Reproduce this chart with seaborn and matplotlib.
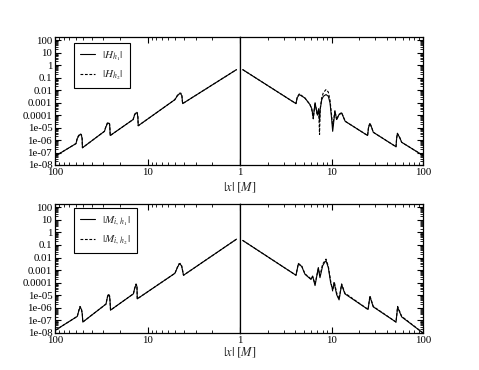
import numpy as np
import pandas as pd
import matplotlib
matplotlib.use("Agg")
import matplotlib.pyplot as plt
import seaborn as sns
from matplotlib.ticker import LogLocator, NullFormatter, FixedLocator, FixedFormatter

# ---- data (|x| in M, amplitude) ----
# top panel, left half (|x| from 100 down to 1)
h_left_x = [100, 59.3, 57.5, 55.6, 53.7, 51.9, 50.9, 50.5, 29.2, 28.2, 27.2, 26.3, 25.7, 25.5, 25.3,
            14.3, 13.8, 13.3, 12.9, 12.7, 12.6, 5.07, 4.79, 4.57, 4.37, 4.25, 4.17, 1.09]
h1_left_y = [5.0e-8, 5.2e-7, 1.3e-6, 2.0e-6, 2.8e-6, 2.5e-6, 1.3e-6, 2.4e-7, 5.0e-6, 1.1e-5, 2.0e-5,
             2.3e-5, 1.8e-5, 7.9e-6, 2.3e-6, 4.4e-5, 1.0e-4, 1.5e-4, 1.4e-4, 6.3e-5, 1.4e-5, 1.7e-3,
             3.2e-3, 4.8e-3, 5.2e-3, 3.5e-3, 8.3e-4, 0.44]
h2_left_y = [5.0e-8, 5.2e-7, 1.4e-6, 2.3e-6, 3.2e-6, 2.8e-6, 1.4e-6, 2.4e-7, 5.0e-6, 1.2e-5, 2.3e-5,
             2.6e-5, 2.0e-5, 8.5e-6, 2.3e-6, 4.4e-5, 1.1e-4, 1.7e-4, 1.6e-4, 7.0e-5, 1.4e-5, 1.7e-3,
             3.5e-3, 5.5e-3, 5.8e-3, 3.8e-3, 8.3e-4, 0.44]

# top panel, right half (|x| from 1 to 100)
h_right_x = [1.07, 4.09, 4.22, 4.45, 4.68, 5.13, 5.82, 6.10, 6.32, 6.61, 7.00, 7.24, 7.40, 7.52, 7.82,
             8.15, 8.71, 9.23, 9.64, 10.05, 10.3, 10.9, 11.4, 12.0, 12.9, 14.1, 24.8, 25.4, 26.3, 27.5,
             28.6, 50.7, 51.5, 52.5, 55.6, 58.5, 100]
h1_right_y = [0.44, 8.3e-4, 2.5e-3, 4.4e-3, 3.5e-3, 2.3e-3, 6.9e-4, 3.2e-4, 5.9e-5, 9.3e-4, 1.1e-4,
              3.2e-4, 3.0e-5, 2.8e-4, 1.7e-3, 3.2e-3, 4.4e-3, 3.2e-3, 9.3e-4, 4.4e-5, 5.0e-6, 2.0e-4,
              4.4e-5, 1.0e-4, 1.5e-4, 3.2e-5, 2.3e-6, 1.0e-5, 2.1e-5, 1.0e-5, 4.2e-6, 2.9e-7, 1.3e-6,
              3.3e-6, 1.6e-6, 6.6e-7, 5.8e-8]
h2_right_y = [0.44, 8.3e-4, 2.8e-3, 5.0e-3, 3.8e-3, 2.3e-3, 6.9e-4, 2.5e-4, 5.0e-5, 1.0e-3, 9.0e-5,
              3.0e-4, 2.8e-6, 3.0e-4, 2.5e-3, 6.3e-3, 1.1e-2, 7.0e-3, 1.5e-3, 8.0e-5, 1.3e-5, 2.2e-4,
              4.0e-5, 1.1e-4, 1.6e-4, 3.2e-5, 2.3e-6, 1.1e-5, 2.3e-5, 1.0e-5, 4.2e-6, 2.9e-7, 1.4e-6,
              3.5e-6, 1.6e-6, 6.6e-7, 5.8e-8]

# bottom panel, left half
m_left_x = [100, 57.4, 55.6, 53.7, 51.9, 50.7, 50.1, 28.1, 27.2, 26.5, 25.7, 25.4, 25.1,
            14.2, 13.8, 13.3, 13.0, 12.9, 5.05, 4.79, 4.57, 4.42, 4.27, 4.08, 1.09]
m1_left_y = [1.6e-8, 2.1e-7, 5.0e-7, 1.1e-6, 7.9e-7, 3.2e-7, 7.4e-8, 2.0e-6, 6.3e-6, 1.1e-5, 7.9e-6,
             3.2e-6, 6.6e-7, 1.3e-5, 3.2e-5, 7.1e-5, 5.0e-5, 5.2e-6, 5.6e-4, 1.4e-3, 2.8e-3, 3.0e-3,
             2.0e-3, 3.9e-4, 0.29]
m2_left_y = [1.6e-8, 2.1e-7, 5.5e-7, 1.3e-6, 9.0e-7, 3.5e-7, 7.4e-8, 2.0e-6, 7.0e-6, 1.3e-5, 9.0e-6,
             3.5e-6, 6.6e-7, 1.3e-5, 3.5e-5, 8.0e-5, 5.5e-5, 5.2e-6, 5.6e-4, 1.5e-3, 3.2e-3, 3.4e-3,
             2.2e-3, 3.9e-4, 0.29]

# bottom panel, right half
m_right_x = [1.07, 4.09, 4.34, 4.72, 5.13, 5.97, 6.22, 6.61, 7.18, 7.48, 8.0, 8.4, 8.71, 9.23, 9.8,
             10.3, 10.7, 11.4, 12.1, 12.9, 14.0, 25.1, 26.3, 28.6, 50.7, 52.8, 58.5, 100]
m1_right_y = [0.23, 3.9e-4, 3.0e-3, 2.0e-3, 4.7e-4, 1.8e-4, 3.4e-4, 5.9e-5, 1.6e-3, 2.5e-4, 2.2e-3,
              4.0e-3, 5.6e-3, 1.6e-3, 9.5e-5, 2.8e-5, 9.5e-5, 1.1e-5, 4.3e-6, 7.1e-5, 1.3e-5, 7.4e-7,
              7.9e-6, 1.2e-6, 7.4e-8, 1.1e-6, 1.9e-7, 1.0e-8]
m2_right_y = [0.23, 3.9e-4, 3.4e-3, 2.2e-3, 5.0e-4, 2.0e-4, 3.0e-4, 8.0e-5, 1.3e-3, 3.5e-4, 3.0e-3,
              5.0e-3, 7.5e-3, 2.0e-3, 1.3e-4, 2.2e-5, 1.2e-4, 1.5e-5, 5.0e-6, 8.0e-5, 1.5e-5, 7.4e-7,
              9.0e-6, 1.3e-6, 7.4e-8, 1.3e-6, 2.1e-7, 1.0e-8]

ytick_vals = [1e2, 1e1, 1e0, 1e-1, 1e-2, 1e-3, 1e-4, 1e-5, 1e-6, 1e-7, 1e-8]
ytick_labels = ["100", "10", "1", "0.1", "0.01", "0.001", "0.0001", "1e-05", "1e-06", "1e-07", "1e-08"]
xlabel = r"$|x|\ [M]$"
top_labels = [r"$|H_{h_1}|$", r"$|H_{h_2}|$"]
bottom_labels = [r"$|M_{i,\,h_1}|$", r"$|M_{i,\,h_2}|$"]

sns.set_style("ticks")
plt.rcParams['font.family'] = ['Liberation Serif', 'DejaVu Serif']
plt.rcParams['mathtext.fontset'] = 'stix'
plt.rcParams['axes.linewidth'] = 0.9

fig = plt.figure(figsize=(4.79, 3.7), dpi=100)
W, H = 479.0, 370.0


def make_axes(x0, x1, ytop, ybot):
    return fig.add_axes([x0 / W, 1 - ybot / H, (x1 - x0) / W, (ybot - ytop) / H])


def style(ax, side):
    ax.set_xscale('log')
    ax.set_yscale('log')
    ax.set_ylim(1e-8, 180)
    ax.set_xlabel("")
    ax.set_ylabel("")
    for s in ax.spines.values():
        s.set_visible(True)
        s.set_color('black')
    ax.yaxis.set_major_locator(FixedLocator(ytick_vals))
    ax.yaxis.set_minor_locator(LogLocator(base=10, subs=np.arange(2, 10), numticks=30))
    ax.yaxis.set_minor_formatter(NullFormatter())
    ax.xaxis.set_minor_locator(LogLocator(base=10, subs=np.arange(2, 10), numticks=30))
    ax.xaxis.set_minor_formatter(NullFormatter())
    ax.tick_params(which='both', direction='in', colors='black', labelsize=7.8, pad=2)
    ax.tick_params(which='major', length=4, width=0.8)
    ax.tick_params(which='minor', length=2.5, width=0.6)
    ax.tick_params(axis='x', which='both', top=True, bottom=True)
    if side == 'left':
        ax.set_xlim(100, 1)
        ax.xaxis.set_major_locator(FixedLocator([100, 10, 1]))
        ax.xaxis.set_major_formatter(FixedFormatter(["100", "10", "1"]))
        ax.yaxis.set_major_formatter(FixedFormatter(ytick_labels))
        ax.tick_params(axis='y', which='both', left=True, right=False)
    else:
        ax.set_xlim(1, 100)
        ax.xaxis.set_major_locator(FixedLocator([10, 100]))
        ax.xaxis.set_major_formatter(FixedFormatter(["10", "100"]))
        ax.tick_params(axis='y', which='both', left=False, right=True, labelleft=False)


def draw(ax, x, y1, y2, labels=None):
    l1 = labels[0] if labels else None
    l2 = labels[1] if labels else None
    sns.lineplot(x=x, y=y1, ax=ax, color='black', lw=0.8, sort=False, estimator=None, label=l1)
    sns.lineplot(x=x, y=y2, ax=ax, color='black', lw=0.8, sort=False, estimator=None,
                 linestyle=(0, (2.5, 1.5)), label=l2)


panels = [
    (37, 165, h_left_x, h1_left_y, h2_left_y, h_right_x, h1_right_y, h2_right_y, top_labels, 188, 0.953),
    (204, 333, m_left_x, m1_left_y, m2_left_y, m_right_x, m1_right_y, m2_right_y, bottom_labels, 353, 0.969),
]

for ytop, ybot, lx, ly1, ly2, rx, ry1, ry2, labels, ylab, leg_y in panels:
    axl = make_axes(55, 240, ytop, ybot)
    axr = make_axes(240, 423, ytop, ybot)
    draw(axl, lx, ly1, ly2, labels)
    draw(axr, rx, ry1, ry2)
    style(axl, 'left')
    style(axr, 'right')
    if axr.get_legend():
        axr.get_legend().remove()
    leg = axl.legend(loc='upper left', bbox_to_anchor=(0.103, leg_y), borderaxespad=0, fontsize=8,
                     frameon=True, fancybox=False, edgecolor='black', framealpha=1,
                     handlelength=1.3, labelspacing=0.55, borderpad=0.55, handletextpad=0.7)
    leg.get_frame().set_linewidth(0.8)
    fig.text(240 / W, 1 - ylab / H, xlabel, ha='center', va='center', fontsize=9)

fig.savefig("out.png", dpi=100)
